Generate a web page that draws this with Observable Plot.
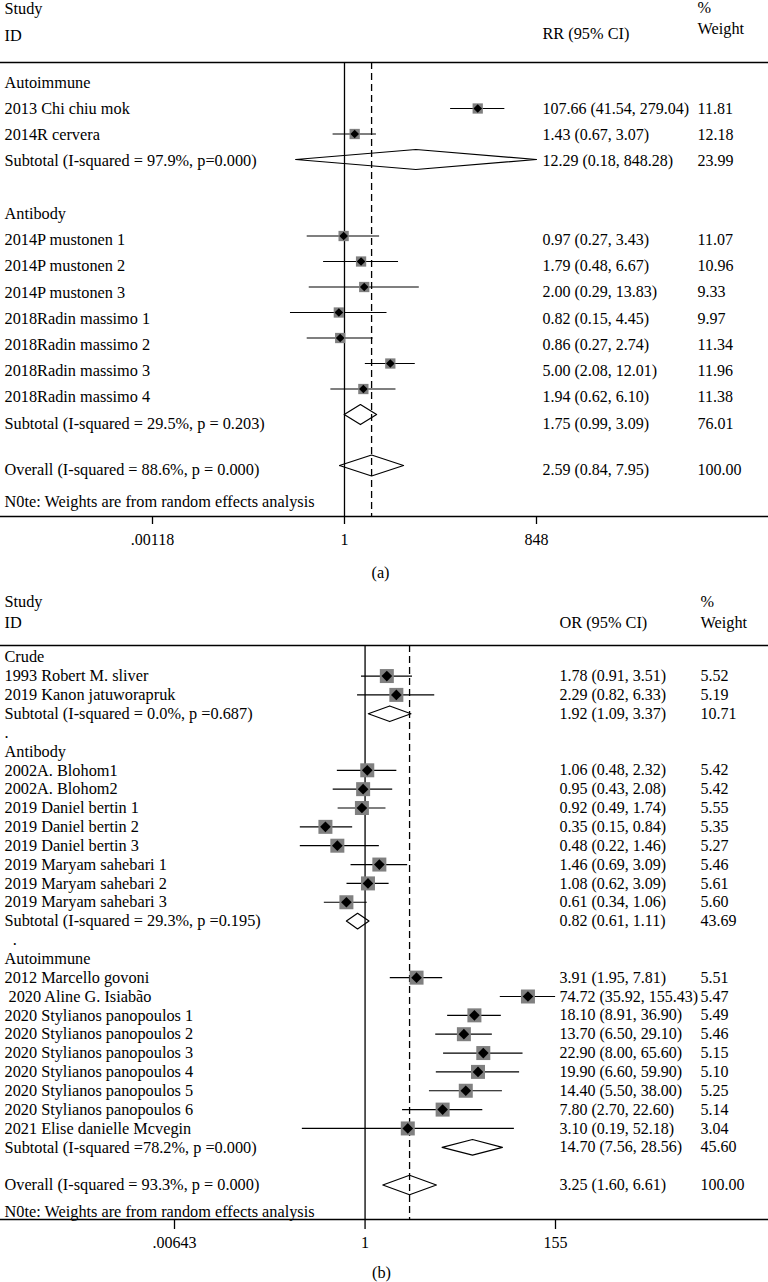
<!DOCTYPE html>
<html>
<head>
<meta charset="utf-8">
<script src="https://cdn.jsdelivr.net/npm/d3@7"></script>
<script src="https://cdn.jsdelivr.net/npm/@observablehq/plot@0.6"></script>
<style>
  html, body { margin: 0; padding: 0; background: #fff; }
  #chart svg { display: block; }
</style>
</head>
<body>
<div id="chart"></div>
<script>
// ================= Panel (a): RR =================
const headersA = ["Study", "ID", "RR (95% CI)", "%", "Weight"];
const labelsA = [
  "Autoimmune",
  "2013 Chi chiu mok",
  "2014R cervera",
  "Subtotal (I-squared = 97.9%, p=0.000)",
  "",
  "Antibody",
  "2014P mustonen 1",
  "2014P mustonen 2",
  "2014P mustonen 3",
  "2018Radin massimo 1",
  "2018Radin massimo 2",
  "2018Radin massimo 3",
  "2018Radin massimo 4",
  "Subtotal (I-squared = 29.5%, p = 0.203)",
  "",
  "Overall (I-squared = 88.6%, p = 0.000)",
  "N0te: Weights are from random effects analysis"
];
const kindsA = ["group","study","study","sub","blank","group","study","study","study","study","study","study","study","sub","blank","overall","note"];
const estA = [null, 107.66, 1.43, 12.29, null, null, 0.97, 1.79, 2.00, 0.82, 0.86, 5.00, 1.94, 1.75, null, 2.59, null];
const loA  = [null, 41.54, 0.67, 0.18, null, null, 0.27, 0.48, 0.29, 0.15, 0.27, 2.08, 0.62, 0.99, null, 0.84, null];
const hiA  = [null, 279.04, 3.07, 848.28, null, null, 3.43, 6.67, 13.83, 4.45, 2.74, 12.01, 6.10, 3.09, null, 7.95, null];
const ciTextA = ["", "107.66 (41.54, 279.04)", "1.43 (0.67, 3.07)", "12.29 (0.18, 848.28)", "", "",
  "0.97 (0.27, 3.43)", "1.79 (0.48, 6.67)", "2.00 (0.29, 13.83)", "0.82 (0.15, 4.45)", "0.86 (0.27, 2.74)",
  "5.00 (2.08, 12.01)", "1.94 (0.62, 6.10)", "1.75 (0.99, 3.09)", "", "2.59 (0.84, 7.95)", ""];
const weightA = ["", "11.81", "12.18", "23.99", "", "", "11.07", "10.96", "9.33", "9.97", "11.34", "11.96", "11.38", "76.01", "", "100.00", ""];
const xTicksA = [0.00118, 1, 848];
const xTickLabelsA = [".00118", "1", "848"];
const overallA = 2.59;
const captionA = "(a)";

// ================= Panel (b): OR =================
const headersB = ["Study", "ID", "OR (95% CI)", "%", "Weight"];
const labelsB = [
  "Crude",
  "1993 Robert M. sliver",
  "2019 Kanon jatuworapruk",
  "Subtotal (I-squared = 0.0%, p =0.687)",
  ".",
  "Antibody",
  "2002A. Blohom1",
  "2002A. Blohom2",
  "2019 Daniel bertin 1",
  "2019 Daniel bertin 2",
  "2019 Daniel bertin 3",
  "2019 Maryam sahebari 1",
  "2019 Maryam sahebari 2",
  "2019 Maryam sahebari 3",
  "Subtotal (I-squared = 29.3%, p =0.195)",
  "\u00a0\u00a0.",
  "Autoimmune",
  "2012 Marcello govoni",
  "\u00a02020 Aline G. Isiabão",
  "2020 Stylianos panopoulos 1",
  "2020 Stylianos panopoulos 2",
  "2020 Stylianos panopoulos 3",
  "2020 Stylianos panopoulos 4",
  "2020 Stylianos panopoulos 5",
  "2020 Stylianos panopoulos 6",
  "2021 Elise danielle Mcvegin",
  "Subtotal (I-squared =78.2%, p =0.000)",
  "",
  "Overall (I-squared = 93.3%, p = 0.000)",
  "N0te: Weights are from random effects analysis"
];
const kindsB = ["group","study","study","sub","blank","group","study","study","study","study","study","study","study","study","sub","blank","group",
  "study","study","study","study","study","study","study","study","study","sub","blank","overall","note"];
// plotted positions as drawn in the picture
const estB = [null, 1.78, 2.29, 1.92, null, null, 1.06, 0.95, 0.92, 0.35, 0.48, 1.46, 1.08, 0.61, 0.82, null, null,
  3.91, 74.72, 18.10, 13.70, 22.90, 19.90, 14.40, 7.80, 3.10, 17.2, null, 3.25, null];
const loB = [null, 0.91, 0.82, 1.09, null, null, 0.48, 0.43, 0.49, 0.18, 0.18, 0.69, 0.62, 0.34, 0.61, null, null,
  1.95, 35.92, 8.91, 6.50, 8.00, 6.60, 5.50, 2.70, 0.19, 7.7, null, 1.60, null];
const hiB = [null, 3.51, 6.33, 3.37, null, null, 2.32, 2.08, 1.74, 0.72, 1.46, 3.09, 1.89, 1.06, 1.11, null, null,
  7.81, 155.43, 36.90, 29.10, 65.60, 59.90, 38.00, 22.60, 52.18, 38.0, null, 6.61, null];
const ciTextB = ["", "1.78 (0.91, 3.51)", "2.29 (0.82, 6.33)", "1.92 (1.09, 3.37)", "", "",
  "1.06 (0.48, 2.32)", "0.95 (0.43, 2.08)", "0.92 (0.49, 1.74)", "0.35 (0.15, 0.84)", "0.48 (0.22, 1.46)",
  "1.46 (0.69, 3.09)", "1.08 (0.62, 3.09)", "0.61 (0.34, 1.06)", "0.82 (0.61, 1.11)", "", "",
  "3.91 (1.95, 7.81)", "74.72 (35.92, 155.43)", "18.10 (8.91, 36.90)", "13.70 (6.50, 29.10)", "22.90 (8.00, 65.60)",
  "19.90 (6.60, 59.90)", "14.40 (5.50, 38.00)", "7.80 (2.70, 22.60)", "3.10 (0.19, 52.18)", "14.70 (7.56, 28.56)", "",
  "3.25 (1.60, 6.61)", ""];
const weightB = ["", "5.52", "5.19", "10.71", "", "", "5.42", "5.42", "5.55", "5.35", "5.27", "5.46", "5.61", "5.60", "43.69", "", "",
  "5.51", "5.47", "5.49", "5.46", "5.15", "5.10", "5.25", "5.14", "3.04", "45.60", "", "100.00", ""];
const xTicksB = [0.00643, 1, 155];
const xTickLabelsB = [".00643", "1", "155"];
const overallB = 3.25;
const captionB = "(b)";

const FONT = '"Liberation Serif", "Times New Roman", Times, serif';

function forest(cfg) {
  const rows = cfg.labels.map((label, i) => ({
    row: i, label, kind: cfg.kinds[i],
    est: cfg.est[i], lo: cfg.lo[i], hi: cfg.hi[i],
    ci: cfg.ciText[i], w: cfg.weight[i]
  }));
  const textRow = d => d.row + (cfg.textShift[d.kind] || 0);
  const markRow = d => cfg.markRow(d.row);
  const studies = rows.filter(d => d.kind === "study");
  const summaries = rows.filter(d => d.kind === "sub" || d.kind === "overall");
  const diamondPts = summaries.flatMap(d => {
    const r = markRow(d);
    const h = (d.kind === "overall" ? cfg.overallHalf : cfg.subHalf) / cfg.rowPx;
    return [[d.lo, r], [d.est, r - h], [d.hi, r], [d.est, r + h], [d.lo, r]]
      .map(([x, y]) => ({x, y, id: d.row}));
  });
  const tickData = cfg.ticks.map((v, i) => ({v, label: cfg.tickLabels[i]}));
  const hdr = (t, dx, dy) => Plot.text([t], {
    text: d => d, frameAnchor: "top-left", lineAnchor: "middle", dx, dy, textAnchor: "start"
  });
  return Plot.plot({
    width: 768,
    height: cfg.height,
    marginTop: cfg.top,
    marginBottom: cfg.bottom,
    marginLeft: 0,
    marginRight: 0,
    style: {fontFamily: FONT, fontSize: "16.3px", color: "#000", background: "#fff", overflow: "visible"},
    x: {type: "log", domain: cfg.xDomain, range: cfg.xRange},
    y: {domain: cfg.yDomain, range: cfg.yRange, axis: null},
    marks: [
      Plot.frame({anchor: "top", strokeWidth: 1.6}),
      Plot.frame({anchor: "bottom", strokeWidth: 1.4}),
      Plot.ruleX([1], {strokeWidth: 1.3}),
      Plot.ruleX([cfg.overall], {strokeWidth: 1.3, strokeDasharray: "7,4"}),
      Plot.axisX({
        ticks: cfg.ticks,
        tickFormat: () => "",
        tickSize: cfg.tickSize,
        strokeWidth: 1.3,
        label: null
      }),
      Plot.text(tickData, {
        x: "v", text: "label", frameAnchor: "bottom", lineAnchor: "middle", dy: cfg.tickLabelDy, fontSize: 16
      }),
      Plot.ruleY(studies, {y: markRow, x1: "lo", x2: "hi", strokeWidth: 1.2}),
      Plot.dot(studies, {x: "est", y: markRow, symbol: "square", r: cfg.boxR, fill: "#808080", stroke: "none"}),
      Plot.dot(studies, {x: "est", y: markRow, symbol: "diamond2", r: cfg.dotR, fill: "#000", stroke: "none"}),
      Plot.line(diamondPts, {x: "x", y: "y", z: "id", stroke: "#000", strokeWidth: 1.2, curve: "linear"}),
      Plot.text(rows, {y: textRow, text: "label", frameAnchor: "left", dx: cfg.nameX, textAnchor: "start"}),
      Plot.text(rows, {y: textRow, text: "ci", frameAnchor: "left", dx: cfg.ciX, textAnchor: "start", fontSize: 16}),
      Plot.text(rows, {y: textRow, text: "w", frameAnchor: "left", dx: cfg.wX, textAnchor: "start", fontSize: 16}),
      hdr(cfg.headers[0], cfg.nameX, cfg.hdrDy[0]),
      hdr(cfg.headers[1], cfg.nameX, cfg.hdrDy[1]),
      hdr(cfg.headers[2], cfg.ciX, cfg.hdrDy[2]),
      hdr(cfg.headers[3], cfg.wX, cfg.hdrDy[3]),
      hdr(cfg.headers[4], cfg.wX, cfg.hdrDy[4]),
      Plot.text([cfg.caption], {
        text: d => d, frameAnchor: "bottom", lineAnchor: "middle", dx: cfg.capDx, dy: cfg.capDy
      })
    ]
  });
}

const panelA = forest({
  labels: labelsA, kinds: kindsA, est: estA, lo: loA, hi: hiA, ciText: ciTextA, weight: weightA,
  headers: headersA, ticks: xTicksA, tickLabels: xTickLabelsA, overall: overallA, caption: captionA,
  height: 594, top: 62, bottom: 78,
  xDomain: [0.00118, 848], xRange: [152, 536],
  yDomain: [0, 13], yRange: [82, 423],
  markRow: r => 0.019 + 0.9722 * r,
  textShift: {overall: -0.25},
  rowPx: 26.23, subHalf: 10, overallHalf: 10.5,
  boxR: 5.8, dotR: 3.9,
  nameX: 4, ciX: 542, wX: 697,
  tickSize: 8, tickLabelDy: 23,
  hdrDy: [-54, -27, -29, -55, -34],
  capDx: -4, capDy: 56
});

const panelB = forest({
  labels: labelsB, kinds: kindsB, est: estB, lo: loB, hi: hiB, ciText: ciTextB, weight: weightB,
  headers: headersB, ticks: xTicksB, tickLabels: xTickLabelsB, overall: overallB, caption: captionB,
  height: 688, top: 51, bottom: 63,
  xDomain: [0.00643, 155], xRange: [174, 555],
  yDomain: [0, 28], yRange: [62.7, 590.5],
  markRow: r => r,
  textShift: {note: 0.4},
  rowPx: 18.85, subHalf: 7.8, overallHalf: 9.7,
  boxR: 7.9, dotR: 4.8,
  nameX: 4, ciX: 559, wX: 700,
  tickSize: 10, tickLabelDy: 23.7,
  hdrDy: [-43.3, -22.3, -22.3, -43.3, -22.3],
  capDx: -3, capDy: 53
});

const root = document.getElementById("chart");
root.appendChild(panelA);
root.appendChild(panelB);
</script>
</body>
</html>
